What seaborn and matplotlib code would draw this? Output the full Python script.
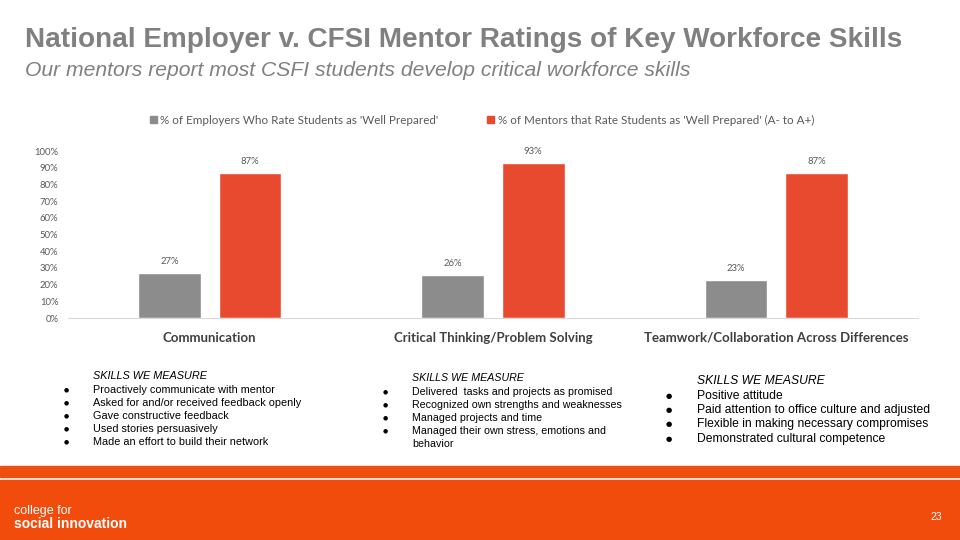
import matplotlib
matplotlib.use('Agg')
import matplotlib.pyplot as plt
import seaborn as sns
import pandas as pd
from matplotlib.patches import Rectangle
from matplotlib.ticker import PercentFormatter

# Chart data
skills = ['Communication', 'Critical Thinking/Problem Solving',
          'Teamwork/Collaboration Across Differences']
employers = [27, 26, 23]
mentors = [87, 93, 87]
series = ["% of Employers Who Rate Students as 'Well Prepared'",
          "% of Mentors that Rate Students as 'Well Prepared' (A- to A+)"]

# Text blocks under the chart
skills_col1 = ['Proactively communicate with mentor',
               'Asked for and/or received feedback openly',
               'Gave constructive feedback',
               'Used stories persuasively',
               'Made an effort to build their network']
skills_col2 = ['Delivered  tasks and projects as promised',
               'Recognized own strengths and weaknesses',
               'Managed projects and time',
               'Managed their own stress, emotions and\nbehavior']
skills_col3 = ['Positive attitude',
               'Paid attention to office culture and adjusted',
               'Flexible in making necessary compromises',
               'Demonstrated cultural competence']

df = pd.DataFrame({
    'Skill': skills * 2,
    'Series': [series[0]] * 3 + [series[1]] * 3,
    'Value': employers + mentors,
})

sns.set_style('white')
plt.rcParams['font.family'] = ['Lato', 'DejaVu Sans']

W, H = 960, 540
fig = plt.figure(figsize=(9.6, 5.4), dpi=100)


def fx(x):
    return x / W


def fy(y):
    return 1 - y / H


# Title and subtitle
fig.text(fx(25), fy(40), 'National Employer v. CFSI Mentor Ratings of Key Workforce Skills',
         fontsize=20.1, fontweight='bold', color='#808080', family='Liberation Sans',
         va='center', ha='left')
fig.text(fx(25), fy(70), 'Our mentors report most CSFI students develop critical workforce skills',
         fontsize=15.2, style='italic', color='#808080', family='Liberation Sans',
         va='center', ha='left')

# Bar chart
ax = fig.add_axes([fx(68), fy(318), fx(918 - 68), (318 - 151.3) / H])
palette = ['#8c8c8c', '#e84a30']
sns.barplot(data=df, x='Skill', y='Value', hue='Series', palette=palette,
            width=0.568, gap=0.22, ax=ax, legend=False, saturation=1)
ax.set_ylim(0, 100)
ax.set_yticks(range(0, 101, 10))
ax.yaxis.set_major_formatter(PercentFormatter(decimals=0))
ax.set_xlim(-0.5, 2.5)
ax.set_xlabel('')
ax.set_ylabel('')
for s in ['top', 'right', 'left']:
    ax.spines[s].set_visible(False)
ax.spines['bottom'].set_color('#d9d9d9')
ax.tick_params(axis='y', labelsize=6.8, labelcolor='#595959', length=0, pad=7)
ax.tick_params(axis='x', labelsize=9.5, labelcolor='#404040', length=0, pad=10)
for lbl in ax.get_xticklabels():
    lbl.set_fontweight('bold')
for c in ax.containers:
    ax.bar_label(c, fmt='%d%%', fontsize=6.8, color='#595959', padding=5)

# Legend
handles = [Rectangle((0, 0), 1, 1, color=col) for col in palette]
fig.legend(handles, series, loc='center', bbox_to_anchor=(fx(482), fy(120)),
           ncol=2, frameon=False, fontsize=8.4, labelcolor='#595959',
           handlelength=0.6, handleheight=0.6, handletextpad=0.3, columnspacing=4.2,
           borderpad=0, borderaxespad=0)


# Skills text blocks
def skill_block(x_bullet, x_text, y_head, y_first, lines, step, size):
    fig.text(fx(x_text), fy(y_head), 'SKILLS WE MEASURE', fontsize=size, style='italic',
             family='Liberation Sans', color='#000000', va='center')
    y = y_first
    for line in lines:
        fig.text(fx(x_bullet), fy(y), '\u25cf', fontsize=size - 3.5, color='#000000',
                 va='center', ha='center', family='DejaVu Sans')
        for part in line.split('\n'):
            fig.text(fx(x_text), fy(y), part, fontsize=size, family='Liberation Sans',
                     color='#000000', va='center')
            y += step


skill_block(66, 93, 376, 390, skills_col1, 12.9, 7.8)
skill_block(385, 412, 378, 392, skills_col2, 13.0, 7.7)
skill_block(669, 697, 381, 396, skills_col3, 14.2, 8.75)

# Footer
fig.patches.append(Rectangle((0, fy(477)), 1, (477 - 466) / H, transform=fig.transFigure,
                             color='#f04e0e', zorder=0))
fig.patches.append(Rectangle((0, 0), 1, fy(480), transform=fig.transFigure,
                             color='#f24c0d', zorder=0))
fig.text(fx(14), fy(511), 'college for', fontsize=9, color='white', va='center',
         family='Liberation Sans')
fig.text(fx(14), fy(524), 'social innovation', fontsize=10, color='white', va='center',
         fontweight='bold', family='Liberation Sans')
fig.text(fx(942), fy(517), '23', fontsize=7.5, color='white', va='center', ha='right',
         family='Liberation Sans')

fig.savefig('out.png', dpi=100)
